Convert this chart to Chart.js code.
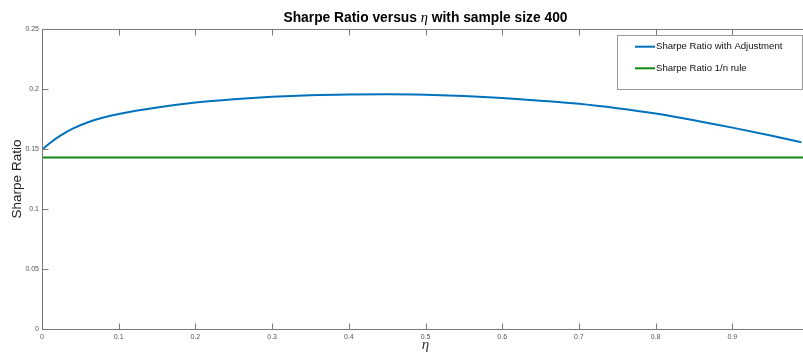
<!DOCTYPE html>
<html><head><meta charset="utf-8">
<script src="https://cdn.jsdelivr.net/npm/chart.js@4"></script>
<style>
html,body{margin:0;padding:0;overflow:hidden;background:#fff;width:803px;height:357px}
#wrap{width:815px;height:357px}
canvas{display:block}
</style></head>
<body><div id="wrap"><canvas id="c" width="815" height="357"></canvas></div>
<script>
const etaValues      = [0, 0.01, 0.025, 0.04, 0.06, 0.08, 0.1, 0.15, 0.2, 0.25, 0.3, 0.35, 0.4, 0.45, 0.5, 0.55, 0.6, 0.65, 0.7, 0.75, 0.8, 0.85, 0.9, 0.95, 0.99];
const sharpeAdjusted = [0.1494, 0.1548, 0.1615, 0.1670, 0.1723, 0.1762, 0.1791, 0.1845, 0.1887, 0.1915, 0.1935, 0.1948, 0.1954, 0.1956, 0.1952, 0.1942, 0.1926, 0.1903, 0.1877, 0.1840, 0.1795, 0.1740, 0.1678, 0.1612, 0.1556];
const etaOneOverN    = [0, 1];
const sharpeOneOverN = [0.1429, 0.1429];
const seriesLabels   = ['Sharpe Ratio with Adjustment', 'Sharpe Ratio 1/n rule'];
const seriesColors   = ['#0072BD', '#138a13'];
const xTickValues = [0, 0.1, 0.2, 0.3, 0.4, 0.5, 0.6, 0.7, 0.8, 0.9, 1];
const xTickLabels = ['0', '0.1', '0.2', '0.3', '0.4', '0.5', '0.6', '0.7', '0.8', '0.9', '1'];
const yTickValues = [0, 0.05, 0.1, 0.15, 0.2, 0.25];
const yTickLabels = ['0', '0.05', '0.1', '0.15', '0.2', '0.25'];

const FONT = '"Liberation Sans", Arial, sans-serif';
const AXIS = '#7a7a7a';

const boxPlugin = {
  id: 'boxPlugin',
  afterDraw(chart) {
    const ctx = chart.ctx, a = chart.chartArea;
    const xs = chart.scales.x, ys = chart.scales.y;
    ctx.save();
    ctx.strokeStyle = AXIS; ctx.lineWidth = 1;
    const L = Math.round(a.left) + 0.5, R = Math.round(a.right) + 0.5,
          T = Math.round(a.top) + 0.5, B = Math.round(a.bottom) + 0.5;
    ctx.beginPath();
    ctx.moveTo(L, T); ctx.lineTo(R, T); ctx.lineTo(R, B); ctx.lineTo(L, B); ctx.closePath();
    ctx.stroke();
    ctx.beginPath();
    xTickValues.forEach(v => {
      const px = Math.round(xs.getPixelForValue(v)) + 0.5;
      ctx.moveTo(px, B); ctx.lineTo(px, B - 6);
      ctx.moveTo(px, T); ctx.lineTo(px, T + 6);
    });
    yTickValues.forEach(v => {
      const py = Math.round(ys.getPixelForValue(v)) + 0.5;
      ctx.moveTo(L, py); ctx.lineTo(L + 6, py);
      ctx.moveTo(R, py); ctx.lineTo(R - 6, py);
    });
    ctx.stroke();

    // title
    const parts = [
      ['Sharpe Ratio versus ', 'bold 13.8px ' + FONT],
      ['\u03B7', 'italic 14.5px "Liberation Serif", "DejaVu Serif", serif'],
      [' with sample size 400', 'bold 13.8px ' + FONT]
    ];
    let w = 0;
    parts.forEach(p => { ctx.font = p[1]; w += ctx.measureText(p[0]).width; });
    let x = (a.left + a.right) / 2 - w / 2;
    ctx.fillStyle = '#000'; ctx.textBaseline = 'alphabetic'; ctx.textAlign = 'left';
    parts.forEach(p => { ctx.font = p[1]; ctx.fillText(p[0], x, 22); x += ctx.measureText(p[0]).width; });

    // x title
    ctx.font = 'italic 15px "Liberation Serif", "DejaVu Serif", serif';
    ctx.fillStyle = '#333'; ctx.textAlign = 'center'; ctx.textBaseline = 'middle';
    ctx.fillText('\u03B7', (a.left + a.right) / 2, 345);

    // y title
    ctx.save();
    ctx.translate(17, (a.top + a.bottom) / 2);
    ctx.rotate(-Math.PI / 2);
    ctx.font = '13.5px ' + FONT; ctx.fillStyle = '#222';
    ctx.fillText('Sharpe Ratio', 0, 0);
    ctx.restore();

    // legend
    const lx = 617.5, ly = 35.5, lw = 185, lh = 54;
    ctx.fillStyle = '#fff'; ctx.fillRect(lx, ly, lw, lh);
    ctx.strokeStyle = '#9a9a9a'; ctx.lineWidth = 1; ctx.strokeRect(lx, ly, lw, lh);
    const rows = [46.7, 68.3];
    chart.data.datasets.forEach((ds, i) => {
      ctx.strokeStyle = ds.borderColor; ctx.lineWidth = 2;
      ctx.beginPath(); ctx.moveTo(635, rows[i]); ctx.lineTo(655, rows[i]); ctx.stroke();
      ctx.font = '9.6px ' + FONT; ctx.fillStyle = '#111';
      ctx.textAlign = 'left'; ctx.textBaseline = 'middle';
      ctx.fillText(ds.label, 656, rows[i]);
    });
    ctx.restore();
  }
};

new Chart(document.getElementById('c'), {
  type: 'line',
  data: {
    datasets: [
      { label: seriesLabels[0], data: etaValues.map((e, i) => ({x: e, y: sharpeAdjusted[i]})),
        borderColor: seriesColors[0], borderWidth: 2, pointRadius: 0, cubicInterpolationMode: 'monotone', fill: false },
      { label: seriesLabels[1], data: etaOneOverN.map((e, i) => ({x: e, y: sharpeOneOverN[i]})),
        borderColor: seriesColors[1], borderWidth: 2, pointRadius: 0, fill: false }
    ]
  },
  options: {
    responsive: false, animation: false, devicePixelRatio: 1,
    layout: { padding: { top: 29, right: 6, left: 0, bottom: 0 } },
    plugins: { legend: { display: false }, title: { display: false }, tooltip: { enabled: false } },
    scales: {
      x: {
        type: 'linear', min: 0, max: 1,
        afterBuildTicks: s => { s.ticks = xTickValues.map(v => ({value: v})); },
        afterFit: s => { s.height = 28; },
        ticks: { callback: (v) => xTickLabels[xTickValues.indexOf(v)] ?? '', font: { size: 7, family: FONT }, color: '#555', padding: 4, maxRotation: 0, autoSkip: false },
        grid: { display: false, drawTicks: false }, border: { display: false }
      },
      y: {
        type: 'linear', min: 0, max: 0.25,
        afterBuildTicks: s => { s.ticks = yTickValues.map(v => ({value: v})); },
        afterFit: s => { s.width = 42; },
        ticks: { callback: (v) => yTickLabels[yTickValues.indexOf(v)] ?? '', font: { size: 7, family: FONT }, color: '#555', padding: 3, autoSkip: false },
        grid: { display: false, drawTicks: false }, border: { display: false }
      }
    }
  },
  plugins: [boxPlugin]
});
</script>
</body></html>
